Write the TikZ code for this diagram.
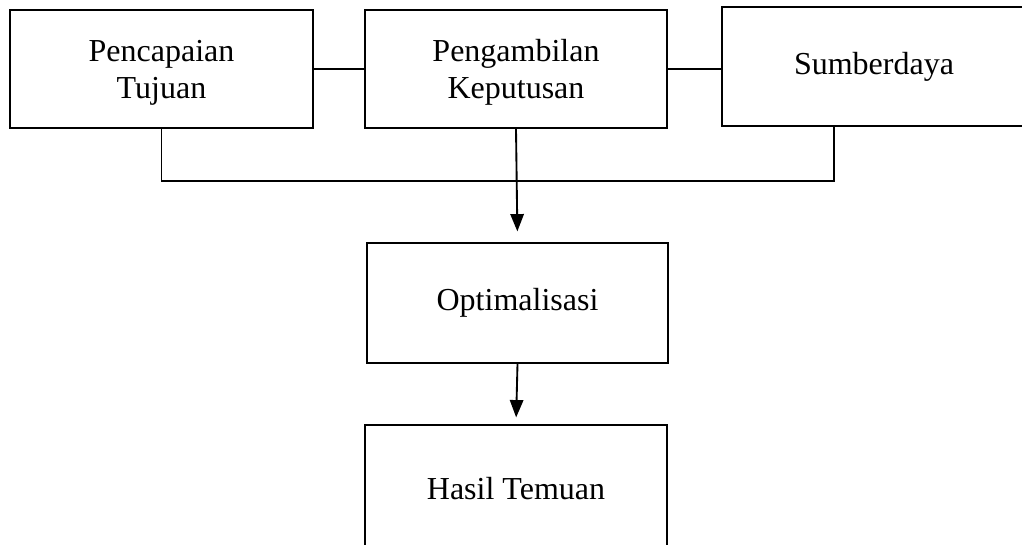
\documentclass[tikz,border=0pt]{standalone}
\usepackage{fontspec}
\setmainfont{Liberation Serif}
\usepackage{tikz}
\usetikzlibrary{arrows.meta,positioning}
\definecolor{ink}{RGB}{0,0,0}
\tikzset{
  blok/.style={rectangle,draw=ink,line width=1.4pt,fill=white,align=center,
    font=\fontsize{24}{27.5}\selectfont,minimum width=227pt,minimum height=88.5pt},
  garis/.style={line width=1.4pt,draw=ink},
  panah/.style={-{Triangle[length=13pt,width=10pt]},line width=1.4pt,draw=ink},
}
\begin{document}
\begin{tikzpicture}[x=0.75pt,y=-0.75pt]
\useasboundingbox (0,0) rectangle (1022,544);
% baris atas
\node[blok] (tujuan) at (161.5,69) {\rule{0pt}{22pt}Pencapaian\\Tujuan};
\node[blok] (keputusan) at (516,69) {\rule{0pt}{22pt}Pengambilan\\Keputusan};
\node[blok,minimum width=228pt,minimum height=89pt] (sumber) at (874,66.5) {Sumberdaya};
% alur ke bawah
\node[blok,minimum width=226pt,minimum height=90pt] (optimal) at (517.5,303) {Optimalisasi};
\node[blok,minimum width=226.5pt,minimum height=96pt] (hasil) at (516,489) {Hasil Temuan};

\draw[garis] (tujuan) -- (keputusan);
\draw[garis] (keputusan.east) -- (keputusan.east -| sumber.west);
% garis penghubung bawah
\coordinate (busR) at (834,181);
\draw[garis] (tujuan.south) |- (busR) -- (busR |- sumber.south);

\draw[panah,shorten >=8pt] (keputusan.south) -- (optimal.north);
\draw[panah,shorten >=5pt] (optimal.south) -- (hasil.north);
\end{tikzpicture}
\end{document}
